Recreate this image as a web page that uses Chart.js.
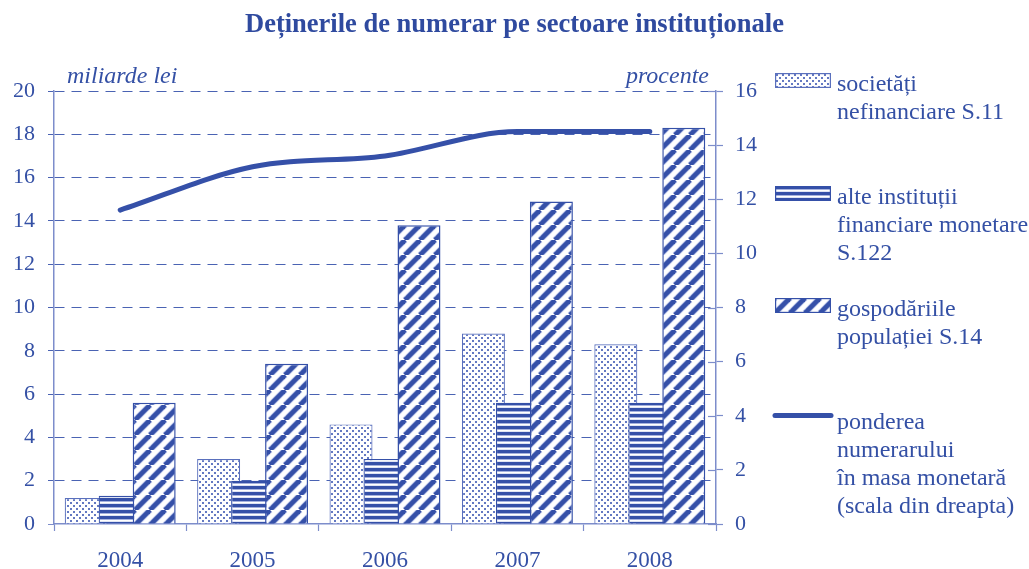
<!DOCTYPE html>
<html><head><meta charset="utf-8">
<script src="https://cdn.jsdelivr.net/npm/chart.js@4.4.0/dist/chart.umd.min.js"></script>
<style>
html,body{margin:0;padding:0;background:#fff;}
#wrap{position:relative;width:1029px;height:569px;overflow:hidden;}
#c{position:absolute;left:0;top:0;}
.t{position:absolute;font-family:"Liberation Serif","Times New Roman",serif;color:#3450a5;font-size:24px;line-height:28px;white-space:nowrap;}
.it{font-style:italic;}
.sw{position:absolute;}
</style></head><body>
<div id="wrap">
<canvas id="c" width="1029" height="569"></canvas>
<div class="t it" style="left:67px;top:61px;">miliarde lei</div>
<div class="t it" style="right:320px;top:61px;">procente</div>
<div id="legend"></div>
</div>
<script>
const categories = ['2004', '2005', '2006', '2007', '2008'];
const societati = [1.2, 3.0, 4.6, 8.8, 8.3];
const alteInst = [1.3, 2.0, 3.0, 5.6, 5.6];
const gospodarii = [5.6, 7.4, 13.8, 14.9, 18.3];
const ponderea = [11.6, 13.2, 13.6, 14.5, 14.5];
const leftTicks = [0, 2, 4, 6, 8, 10, 12, 14, 16, 18, 20];
const rightTicks = [0, 2, 4, 6, 8, 10, 12, 14, 16];
const labels = [
  ['societăți', 'nefinanciare S.11'],
  ['alte instituții', 'financiare monetare', 'S.122'],
  ['gospodăriile', 'populației S.14'],
  ['ponderea', 'numerarului', 'în masa monetară', '(scala din dreapta)']
];

const BLUE = '#3450a5';
const AXIS = '#7d8dcb';
const GRID = '#4a63b3';
const FONT = '"Liberation Serif","Times New Roman",serif';

function makePattern(kind) {
  const c = document.createElement('canvas');
  const x = c.getContext('2d');
  if (kind === 'dots') {
    c.width = 6; c.height = 6;
    x.fillStyle = '#fff'; x.fillRect(0, 0, 6, 6);
    x.fillStyle = '#6479c2';
    x.fillRect(1, 1, 2, 2);
    x.fillRect(4, 4, 2, 2);
  } else if (kind === 'hlines') {
    c.width = 6; c.height = 6;
    x.fillStyle = '#fff'; x.fillRect(0, 0, 6, 6);
    x.fillStyle = '#3550a8'; x.fillRect(0, 0, 6, 3);
    x.fillStyle = '#a6b2de'; x.fillRect(0, 3, 6, 1);
    x.fillStyle = '#dfe4f4'; x.fillRect(0, 5, 6, 1);
  } else {
    const s = 15;
    c.width = s; c.height = s;
    x.fillStyle = '#fff'; x.fillRect(0, 0, s, s);
    for (const [w, col] of [[6.5, '#c2cbec'], [4.6, '#3550a8']]) {
      x.strokeStyle = col; x.lineWidth = w;
      for (let k = -1; k <= 1; k++) {
        x.beginPath(); x.moveTo(k * s, s); x.lineTo(k * s + s, 0); x.stroke();
      }
    }
  }
  return document.createElement('canvas').getContext('2d').createPattern(c, 'repeat');
}
const pDots = makePattern('dots');
const pH = makePattern('hlines');
const pD = makePattern('diag');

// draw datasets so that later bars overlap earlier ones, line on top
const drawOrder = {
  id: 'drawOrder',
  beforeDatasetsDraw(chart) {
    for (let i = 0; i < chart.data.datasets.length; i++) {
      const meta = chart.getDatasetMeta(i);
      if (meta.visible !== false) meta.controller.draw();
    }
    return false;
  }
};

const rightTickExt = {
  id: 'rightTickExt',
  afterDraw(chart) {
    const s = chart.scales.y1, ctx = chart.ctx, r = chart.chartArea.right;
    ctx.save();
    ctx.strokeStyle = AXIS; ctx.lineWidth = 1.2;
    s.ticks.forEach(t => {
      const y = Math.round(s.getPixelForValue(t.value)) + 0.5;
      ctx.beginPath(); ctx.moveTo(r - 8, y); ctx.lineTo(r, y); ctx.stroke();
    });
    ctx.restore();
  }
};

new Chart(document.getElementById('c'), {
  type: 'bar',
  data: {
    labels: categories,
    datasets: [
      { label: labels[0].join(' '), data: societati, backgroundColor: pDots, borderColor: '#5a70bd', borderWidth: 1.2, yAxisID: 'y' },
      { label: labels[1].join(' '), data: alteInst, backgroundColor: pH, borderColor: '#3550a8', borderWidth: 1.2, yAxisID: 'y' },
      { label: labels[2].join(' '), data: gospodarii, backgroundColor: pD, borderColor: '#3550a8', borderWidth: 1.5, yAxisID: 'y' },
      { type: 'line', label: labels[3].join(' '), data: ponderea, borderColor: '#3550a8', borderWidth: 5, cubicInterpolationMode: 'monotone', pointRadius: 0, borderCapStyle: 'round', fill: false, yAxisID: 'y1' }
    ]
  },
  options: {
    responsive: false,
    animation: false,
    devicePixelRatio: 1,
    categoryPercentage: 0.77,
    barPercentage: 1.265,
    layout: { padding: { left: 0, right: 0, top: 0, bottom: 0 } },
    plugins: {
      legend: { display: false },
      tooltip: { enabled: false },
      title: {
        display: true,
        text: 'Deținerile de numerar pe sectoare instituționale',
        color: '#2f4a9f',
        font: { family: FONT, size: 26.5, weight: 'bold', lineHeight: 1.2 },
        padding: { top: 9.5, bottom: 49.7 }
      }
    },
    scales: {
      x: {
        grid: { offset: true, drawOnChartArea: false, drawTicks: true, tickLength: 7, tickColor: AXIS, tickWidth: 1.2 },
        border: { color: AXIS, width: 1.5 },
        ticks: { color: BLUE, font: { family: FONT, size: 23 }, padding: 16 },
        afterFit: s => { s.height = 45; }
      },
      y: {
        position: 'left',
        min: 0, max: 20,
        afterBuildTicks: s => { s.ticks = leftTicks.map(v => ({ value: v })); },
        grid: {
          color: c => (c.tick && c.tick.value === 0) ? 'rgba(0,0,0,0)' : GRID,
          lineWidth: 1, drawTicks: true, tickLength: 6, tickColor: c => (c.tick && c.tick.value === 0) ? AXIS : GRID
        },
        border: { color: AXIS, width: 1.5, dash: [10, 7] },
        ticks: { color: BLUE, font: { family: FONT, size: 22 }, padding: 13 },
        afterFit: s => { s.width = 54; }
      },
      y1: {
        position: 'right',
        min: 0, max: 16,
        afterBuildTicks: s => { s.ticks = rightTicks.map(v => ({ value: v })); },
        grid: { drawOnChartArea: false, drawTicks: true, tickLength: 7, tickColor: AXIS, tickWidth: 1.2 },
        border: { color: AXIS, width: 1.5 },
        ticks: { color: BLUE, font: { family: FONT, size: 22 }, padding: 12 },
        afterFit: s => { s.width = 313; }
      }
    }
  },
  plugins: [drawOrder, rightTickExt]
});

// HTML legend built from the labels
const legendPos = [
  { sw: 73, txt: 69, kind: pDots, border: '#5a70bd' },
  { sw: 186, txt: 182, kind: pH, border: '#3550a8' },
  { sw: 298, txt: 294, kind: pD, border: '#3550a8' },
  { sw: 413, txt: 407, kind: null }
];
const lg = document.getElementById('legend');
labels.forEach((lines, i) => {
  const p = legendPos[i];
  const cv = document.createElement('canvas');
  cv.className = 'sw';
  if (p.kind) {
    cv.width = 56; cv.height = 15;
    cv.style.left = '775px'; cv.style.top = p.sw + 'px';
    const x = cv.getContext('2d');
    x.fillStyle = p.kind; x.fillRect(0, 0, 56, 15);
    x.strokeStyle = p.border; x.lineWidth = 1.2; x.strokeRect(0.6, 0.6, 54.8, 13.8);
  } else {
    cv.width = 62; cv.height = 7;
    cv.style.left = '772px'; cv.style.top = (p.sw - 1) + 'px';
    const x = cv.getContext('2d');
    x.strokeStyle = '#3550a8'; x.lineWidth = 5; x.lineCap = 'round';
    x.beginPath(); x.moveTo(3, 3.5); x.lineTo(59, 3.5); x.stroke();
  }
  lg.appendChild(cv);
  const d = document.createElement('div');
  d.className = 't';
  d.style.left = '837px'; d.style.top = p.txt + 'px';
  d.innerHTML = lines.join('<br>');
  lg.appendChild(d);
});
</script>
</body></html>
